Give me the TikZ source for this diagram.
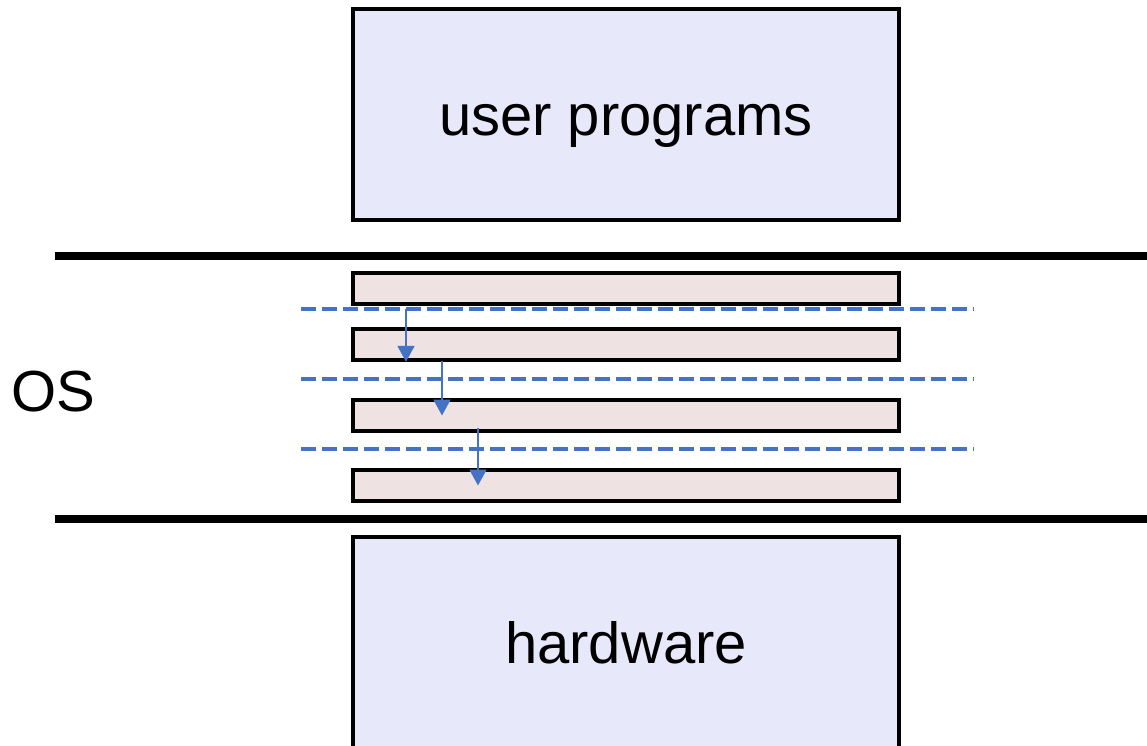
\documentclass[tikz,border=0pt]{standalone}
\usepackage{fontspec}
\setmainfont{Liberation Sans}
\usetikzlibrary{arrows.meta, positioning}
\definecolor{boxblue}{HTML}{E8E8FB}
\definecolor{layerpink}{HTML}{EEE3E2}
\definecolor{callblue}{HTML}{4472C4}

\begin{document}
\begin{tikzpicture}[x=0.02cm, y=-0.02cm,
    bigbox/.style={draw, line width=2pt, fill=boxblue, minimum width=10.92cm, minimum height=4.22cm, text height=24pt, text depth=0pt, font=\fontsize{33}{40}\selectfont},
    layer/.style={draw, line width=2pt, fill=layerpink, minimum width=10.92cm, minimum height=0.62cm, inner sep=0pt},
    border/.style={line width=4pt},
    callline/.style={callblue, line width=2.4pt, dash pattern=on 0.3cm off 0.12cm},
    callarrow/.style={callblue, line width=1.1pt, -{Triangle[length=0.32cm, width=0.34cm]}}]
  \clip (0,0) rectangle (1147,745);
  \node [bigbox] (user) at (626,114.5) {user programs};
  \node [bigbox] (hw) at (626,642.5) {hardware};
  \node [font=\fontsize{33}{40}\selectfont, anchor=west, inner sep=0pt] (os) at (11,392) {OS};
  % kernel boundaries
  \coordinate (topL) at (55,256); \coordinate (topR) at (1147,256);
  \coordinate (botL) at (55,519); \coordinate (botR) at (1147,519);
  \draw [border] (topL) -- (topR);
  \draw [border] (botL) -- (botR);
  % layers
  \foreach \n/\y in {1/288.5, 2/344.5, 3/415.5, 4/485.5}
    \node [layer] (l\n) at (626,\y) {};
  \foreach \n/\y in {1/309, 2/379, 3/449} {
    \coordinate (d\n a) at (301,\y); \coordinate (d\n b) at (973,\y);
    \draw [callline] (d\n a) -- (d\n b);
  }
  % calls down through the layers
  \coordinate (c1) at (406,309);
  \coordinate (c2) at (442,361);
  \coordinate (c3) at (478,428);
  \draw [callarrow] (c1) -- (c1 |- l2.south);
  \draw [callarrow] (c2) -- (c2 |- l3.center);
  \draw [callarrow] (c3) -- (c3 |- l4.center);
\end{tikzpicture}
\end{document}
